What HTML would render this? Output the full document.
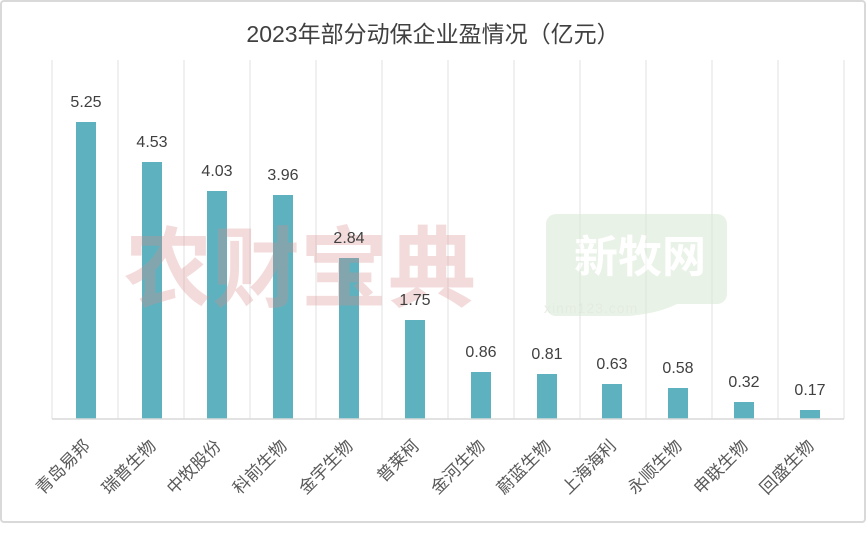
<!DOCTYPE html>
<html><head><meta charset="utf-8"><style>
html,body{margin:0;padding:0;background:#fff;}
svg{display:block;font-family:"Liberation Sans","Noto Sans CJK SC",sans-serif;}
</style></head><body>
<svg width="866" height="534" viewBox="0 0 866 534" xmlns="http://www.w3.org/2000/svg">
<rect x="1" y="1" width="864" height="521" rx="3" fill="#fff" stroke="#d9d9d9" stroke-width="2"/>
<text x="433" y="42" text-anchor="middle" font-size="23" fill="#404040">2023年部分动保企业盈情况（亿元）</text>
<g stroke="#ececec" stroke-width="1.5">
<line x1="52" y1="60" x2="52" y2="419"/><line x1="118" y1="60" x2="118" y2="419"/><line x1="184" y1="60" x2="184" y2="419"/><line x1="250" y1="60" x2="250" y2="419"/><line x1="316" y1="60" x2="316" y2="419"/><line x1="382" y1="60" x2="382" y2="419"/><line x1="448" y1="60" x2="448" y2="419"/><line x1="514" y1="60" x2="514" y2="419"/><line x1="580" y1="60" x2="580" y2="419"/><line x1="646" y1="60" x2="646" y2="419"/><line x1="712" y1="60" x2="712" y2="419"/><line x1="778" y1="60" x2="778" y2="419"/><line x1="844" y1="60" x2="844" y2="419"/>
</g>
<g opacity="0.55">
<path d="M556 214 h161 a10 10 0 0 1 10 10 v70 a10 10 0 0 1 -10 10 h-40 q-20 10 -50 12 l-71 0 a10 10 0 0 1 -10 -10 v-82 a10 10 0 0 1 10 -10z" fill="#d8e9d2"/>
<text x="640" y="272" text-anchor="middle" font-size="44" font-weight="bold" fill="#fff">新牧网</text>
<text x="544" y="313" font-size="14" fill="#cfdccb" letter-spacing="1">xinm123.com</text>
</g>
<g fill="#5eb2bf">
<rect x="76" y="122" width="20" height="297"/><rect x="142" y="162" width="20" height="257"/><rect x="207" y="191" width="20" height="228"/><rect x="273" y="195" width="20" height="224"/><rect x="339" y="258" width="20" height="161"/><rect x="405" y="320" width="20" height="99"/><rect x="471" y="372" width="20" height="47"/><rect x="537" y="374" width="20" height="45"/><rect x="602" y="384" width="20" height="35"/><rect x="668" y="388" width="20" height="31"/><rect x="734" y="402" width="20" height="17"/><rect x="800" y="410" width="20" height="9"/>
</g>
<text x="300" y="300" text-anchor="middle" font-size="88" font-weight="bold" fill="#d98a8a" opacity="0.3">农财宝典</text>
<line x1="52" y1="419" x2="844" y2="419" stroke="#d9d9d9" stroke-width="1.5"/>
<g font-size="16" fill="#404040" text-anchor="middle">
<text x="86" y="107">5.25</text><text x="152" y="147">4.53</text><text x="217" y="176">4.03</text><text x="283" y="180">3.96</text><text x="349" y="243">2.84</text><text x="415" y="305">1.75</text><text x="481" y="357">0.86</text><text x="547" y="359">0.81</text><text x="612" y="369">0.63</text><text x="678" y="373">0.58</text><text x="744" y="387">0.32</text><text x="810" y="395">0.17</text>
</g>
<g font-size="17" fill="#595959" text-anchor="end">
<text transform="translate(91,447) rotate(-45)">青岛易邦</text>
<text transform="translate(157,447) rotate(-45)">瑞普生物</text>
<text transform="translate(222,447) rotate(-45)">中牧股份</text>
<text transform="translate(288,447) rotate(-45)">科前生物</text>
<text transform="translate(354,447) rotate(-45)">金宇生物</text>
<text transform="translate(420,447) rotate(-45)">普莱柯</text>
<text transform="translate(486,447) rotate(-45)">金河生物</text>
<text transform="translate(552,447) rotate(-45)">蔚蓝生物</text>
<text transform="translate(617,447) rotate(-45)">上海海利</text>
<text transform="translate(683,447) rotate(-45)">永顺生物</text>
<text transform="translate(749,447) rotate(-45)">申联生物</text>
<text transform="translate(815,447) rotate(-45)">回盛生物</text>
</g>
</svg>
</body></html>
